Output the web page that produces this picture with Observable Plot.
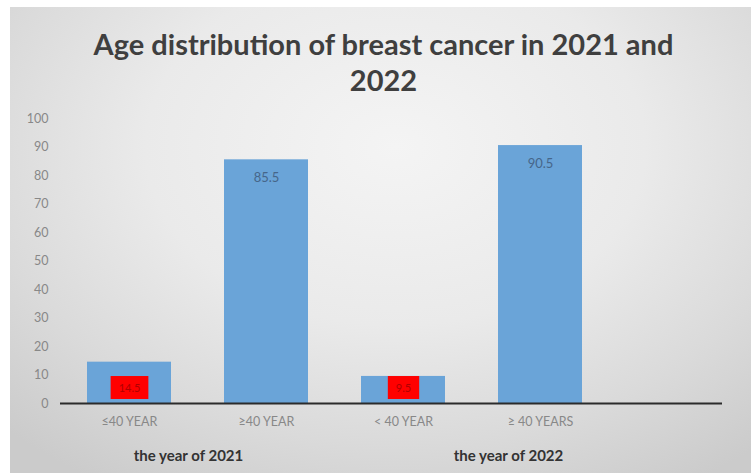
<!DOCTYPE html>
<html>
<head>
<meta charset="utf-8">
<script src="https://cdn.jsdelivr.net/npm/d3@7"></script>
<script src="https://cdn.jsdelivr.net/npm/@observablehq/plot@0.6"></script>
<style>
  html, body { margin: 0; padding: 0; background: #ffffff; }
  #wrap { position: relative; width: 751px; height: 473px; overflow: hidden; background: #ffffff; }
  #bg { position: absolute; left: 10px; top: 7px; width: 741px; height: 466px;
        background: radial-gradient(ellipse 75% 85% at 52% 30%, #f4f4f4 0%, #eaeaea 45%, #dadada 75%, #cbcbcb 100%); }
  #title { position: absolute; left: 8px; top: 26px; width: 751px; text-align: center;
           font-family: Lato, "Open Sans", sans-serif; font-weight: 700; font-size: 29px;
           line-height: 36px; color: #3f3f3f; }
  #chart { position: absolute; left: 0; top: 0; }
  #chart svg { background: transparent !important; }
</style>
</head>
<body>
<div id="wrap">
  <div id="bg"></div>
  <div id="title">Age distribution of breast cancer in 2021 and<br>2022</div>
  <div id="chart"></div>
</div>
<script>
const categories = ["≤40 YEAR", "≥40 YEAR", "< 40 YEAR", "≥ 40 YEARS"];
const values = [14.5, 85.5, 9.5, 90.5];
const years = ["the year of 2021", "the year of 2021", "the year of 2022", "the year of 2022"];
const highlighted = ["≤40 YEAR", "< 40 YEAR"];
const yTicks = [0, 10, 20, 30, 40, 50, 60, 70, 80, 90, 100];
const groupLabels = ["the year of 2021", "the year of 2022"];

const data = categories.map((c, i) => ({category: c, value: values[i], year: years[i]}));
const topLabeled = data.filter(d => !highlighted.includes(d.category));
const baseLabeled = data.filter(d => highlighted.includes(d.category));
const g2021 = [{category: categories[0], label: groupLabels[0]}];
const g2022 = [{category: categories[2], label: groupLabels[1]}];

const font = "Lato, 'Open Sans', sans-serif";

const chart = Plot.plot({
  width: 751,
  height: 473,
  marginLeft: 60,
  marginRight: 29,
  marginTop: 118,
  marginBottom: 70,
  style: {background: "transparent", fontFamily: font},
  x: {type: "band", domain: categories, range: [60, 608], paddingInner: 0.39, paddingOuter: 0.195, label: null},
  y: {domain: [0, 100], label: null},
  marks: [
    Plot.axisY({ticks: yTicks, tickSize: 0, tickPadding: 12, fontSize: 12.5, color: "#888888", label: null}),
    Plot.axisX({tickSize: 0, tickPadding: 14, fontSize: 12.5, color: "#888888", label: null}),
    Plot.barY(data, {x: "category", y: "value", fill: "#6aa4d8"}),
    Plot.ruleY([0], {stroke: "#2b2b2b", strokeWidth: 2}),
    Plot.text(topLabeled, {x: "category", y: "value", text: d => d.value.toFixed(1), dy: 18, fill: "#46668a", fontSize: 13}),
    Plot.text(baseLabeled, {x: "category", y: 0, text: d => d.value.toFixed(1), dy: -15, fill: "#b00000", fontSize: 11, className: "redlab"}),
    Plot.text(g2021, {x: "category", text: "label", frameAnchor: "bottom", dy: 57, dx: 59, fill: "#333333", fontSize: 15, fontWeight: 700}),
    Plot.text(g2022, {x: "category", text: "label", frameAnchor: "bottom", dy: 57, dx: 105, fill: "#333333", fontSize: 15, fontWeight: 700})
  ]
});

document.getElementById("chart").appendChild(chart);

// red background boxes behind the highlighted data labels, sized from the text itself
chart.querySelectorAll(".redlab text").forEach(t => {
  const b = t.getBBox();
  const padX = 8, padY = 5;
  const r = document.createElementNS("http://www.w3.org/2000/svg", "rect");
  r.setAttribute("x", b.x - padX);
  r.setAttribute("y", b.y - padY);
  r.setAttribute("width", b.width + 2 * padX);
  r.setAttribute("height", b.height + 2 * padY);
  r.setAttribute("fill", "#ff0000");
  const tr = t.getAttribute("transform");
  if (tr) r.setAttribute("transform", tr);
  t.parentNode.insertBefore(r, t);
});
</script>
</body>
</html>
